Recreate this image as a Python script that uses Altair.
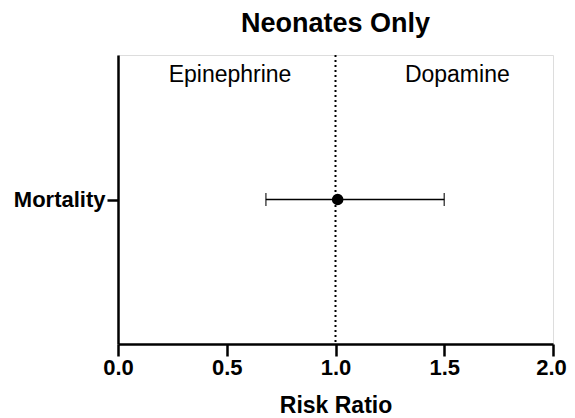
import altair as alt
import pandas as pd

outcomes = ["Mortality"]
rr = [1.01]
ci_low = [0.68]
ci_high = [1.50]
outcome_pos = [0.5]

side_labels = ["Epinephrine", "Dopamine"]
side_x = [0.515, 1.56]
side_y = [0.93, 0.93]

x_ticks = [0.0, 0.5, 1.0, 1.5, 2.0]
ref_line = [1.0]

df = pd.DataFrame({"outcome": outcomes, "rr": rr, "lo": ci_low, "hi": ci_high, "pos": outcome_pos})
lab = pd.DataFrame({"label": side_labels, "x": side_x, "y": side_y})
ref = pd.DataFrame({"x": ref_line})

FONT = "Liberation Sans"

xscale = alt.Scale(domain=[0, 2], nice=False, zero=False)
yscale = alt.Scale(domain=[0, 1], nice=False)

x_enc = alt.X("rr:Q", scale=xscale, title="Risk Ratio",
              axis=alt.Axis(values=x_ticks, format=".1f", grid=False, domainWidth=2.5,
                            domainColor="black", tickColor="black", tickWidth=2.5, tickSize=12,
                            labelFont=FONT, labelFontSize=22, labelFontWeight="bold",
                            labelColor="black", labelPadding=1, labelFlush=False,
                            labelOffset={"condition": {"test": "datum.value == 2", "value": -2},
                                         "value": 0},
                            titleFont=FONT, titleFontSize=23, titleFontWeight="bold",
                            titleColor="black", titlePadding=16))
y_enc = alt.Y("pos:Q", scale=yscale, title=None,
              axis=alt.Axis(values=outcome_pos, labelExpr="'Mortality'", grid=False,
                            domainWidth=2.5, domainColor="black", tickColor="black",
                            tickWidth=2.5, tickSize=11, labelFont=FONT, labelFontSize=22,
                            labelFontWeight="bold", labelColor="black", labelPadding=2))

refline = alt.Chart(ref).mark_rule(color="black", strokeWidth=2, strokeDash=[2, 3]).encode(
    x=alt.X("x:Q", scale=xscale)
)
bar = alt.Chart(df).mark_rule(color="black", strokeWidth=1.5).encode(
    x=alt.X("lo:Q", scale=xscale), x2="hi:Q", y=alt.Y("pos:Q", scale=yscale)
)
cap_lo = alt.Chart(df).mark_tick(color="black", thickness=1.5, size=13, orient="vertical").encode(
    x=alt.X("lo:Q", scale=xscale), y=alt.Y("pos:Q", scale=yscale)
)
cap_hi = alt.Chart(df).mark_tick(color="black", thickness=1.5, size=13, orient="vertical").encode(
    x=alt.X("hi:Q", scale=xscale), y=alt.Y("pos:Q", scale=yscale)
)
point = alt.Chart(df).mark_point(filled=True, color="black", size=135, opacity=1).encode(
    x=x_enc, y=y_enc
)
labels = alt.Chart(lab).mark_text(font=FONT, fontSize=23, color="black").encode(
    x=alt.X("x:Q", scale=xscale), y=alt.Y("y:Q", scale=yscale), text="label:N"
)

chart = alt.layer(refline, bar, cap_lo, cap_hi, point, labels).properties(
    width=435, height=289,
    title=alt.TitleParams("Neonates Only", font=FONT, fontSize=27, fontWeight="bold",
                          color="black", anchor="middle", offset=16),
    autosize=alt.AutoSizeParams(type="none"),
    padding={"left": 110, "top": 47, "right": 14, "bottom": 74},
).configure_view(stroke=None).configure(background="white")

chart.save("out.html", embed_options={"renderer": "svg", "actions": False})
